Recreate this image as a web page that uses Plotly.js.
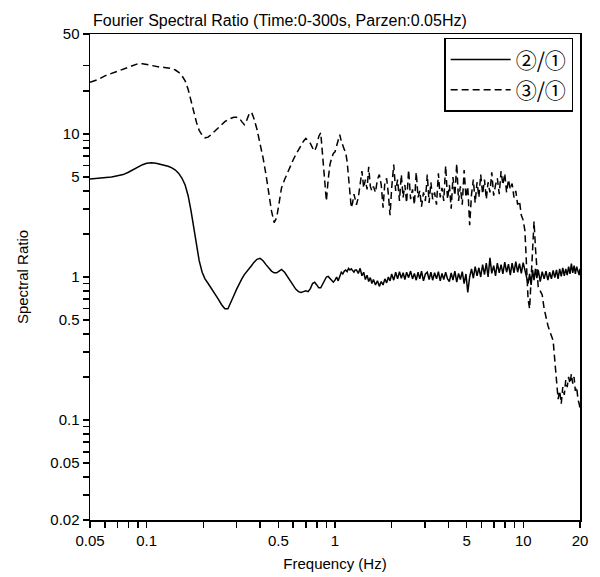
<!DOCTYPE html>
<html>
<head>
<meta charset="utf-8">
<script src="https://cdn.plot.ly/plotly-3.0.1.min.js"></script>
<style>html,body{margin:0;padding:0;background:#fff}#chart{width:600px;height:577px}</style>
</head>
<body>
<div id="chart"></div>
<script>
// Frequency (Hz)
const frequency = [
  0.050,0.055,0.060,0.065,0.070,0.075,0.080,0.085,0.090,0.095,
  0.100,0.106,0.112,0.118,0.124,0.130,0.136,0.142,0.148,0.154,
  0.160,0.166,0.172,0.178,0.184,0.190,0.197,0.204,0.212,0.220,
  0.230,0.240,0.250,0.260,0.270,0.280,0.290,0.300,0.310,0.320,
  0.330,0.340,0.350,0.360,0.370,0.385,0.400,0.415,0.430,0.445,
  0.460,0.475,0.490,0.505,0.520,0.540,0.560,0.580,0.600,0.620,
  0.640,0.660,0.680,0.700,0.720,0.740,0.760,0.780,0.800,0.820,
  0.840,0.860,0.880,0.900,0.920,0.940,0.960,0.980,1.000,1.020,
  1.040,1.060,1.080,1.100,1.120,1.140,1.160,1.180,1.200,1.220,
  1.240,1.260,1.280,
  1.30,1.33,1.36,1.39,1.42,1.45,1.48,1.51,1.54,1.57,
  1.60,1.64,1.68,1.72,1.76,1.80,1.84,1.88,1.92,1.96,
  2.00,2.05,2.10,2.15,2.20,2.25,2.30,2.35,2.40,2.46,
  2.52,2.58,2.64,2.70,2.76,2.82,2.88,2.95,3.02,3.09,
  3.16,3.23,3.30,3.38,3.46,3.54,3.62,3.70,3.78,3.87,
  3.96,4.05,4.14,4.23,4.33,4.43,4.53,4.63,4.74,4.85,
  4.96,5.07,5.19,5.31,5.43,5.55,5.68,5.81,5.94,6.08,
  6.22,6.36,6.50,6.65,6.80,6.96,7.12,7.28,7.45,7.62,
  7.79,7.97,8.15,8.34,8.53,8.72,8.92,9.12,9.33,9.54,
  9.76,9.98,10.2,10.4,10.6,10.8,11.0,11.2,11.4,11.6,
  11.8,12.0,12.3,12.6,12.9,13.2,13.5,13.8,14.1,14.4,
  14.7,15.0,15.3,15.6,15.9,16.2,16.5,16.8,17.1,17.4,
  17.7,18.0,18.3,18.6,18.9,19.2,19.5,19.8,20.0
];

// Spectral ratio 2/1 (solid)
const ratio21 = [
  4.85,4.9,4.95,5.0,5.1,5.2,5.4,5.65,5.9,6.1,
  6.25,6.3,6.25,6.15,6.05,5.95,5.8,5.6,5.3,4.9,
  4.4,3.7,2.9,2.2,1.65,1.3,1.08,0.97,0.9,0.84,
  0.77,0.7,0.64,0.6,0.6,0.66,0.74,0.82,0.9,0.97,
  1.04,1.1,1.15,1.2,1.26,1.33,1.35,1.3,1.22,1.16,
  1.1,1.07,1.07,1.1,1.13,1.08,1.0,0.93,0.87,0.82,
  0.79,0.78,0.79,0.8,0.79,0.83,0.9,0.92,0.88,0.84,
  0.84,0.9,0.95,1.0,1.01,0.98,0.94,0.92,0.95,1.0,
  0.94,1.02,1.08,1.05,1.1,1.12,1.09,1.15,1.12,1.14,
  1.1,1.08,1.12,
  1.12,1.06,1.15,1.02,1.08,0.96,1.03,0.93,0.99,0.9,
  0.96,0.88,0.94,0.86,0.93,0.88,0.97,0.91,1.0,0.94,
  1.05,0.95,1.08,0.97,1.09,0.98,1.07,0.96,1.08,0.99,
  1.1,0.97,1.06,0.95,1.08,0.97,1.1,0.94,1.05,1.08,
  0.96,1.08,0.95,1.07,0.97,1.09,0.94,1.06,0.96,1.08,
  0.97,0.93,1.07,0.95,1.1,0.92,1.06,0.96,1.09,0.9,
  1.05,0.78,1.0,1.14,0.98,1.18,1.02,1.16,1.0,1.22,
  1.04,1.25,1.0,1.36,1.06,1.2,1.02,1.25,1.07,1.22,
  1.05,1.27,1.08,1.23,1.03,1.25,1.07,1.28,1.08,1.24,
  1.06,1.26,1.1,1.0,0.9,1.05,0.88,1.12,0.95,1.14,
  0.98,1.12,0.93,1.09,0.97,1.1,0.95,1.08,0.97,1.11,
  0.99,1.12,0.97,1.14,1.01,1.16,1.02,1.14,1.03,1.18,
  1.05,1.24,1.07,1.2,1.05,1.18,1.07,1.03,1.14
];

// Spectral ratio 3/1 (dashed)
const ratio31 = [
  23,24,25.5,26.5,27.5,28.5,29.5,30.5,31,31,
  30.5,30,29.5,29.3,29.2,29,28.7,28,27,25.5,
  23.5,20.5,17,14,12,10.6,9.8,9.4,9.5,9.9,
  10.5,11.1,11.7,12.2,12.6,12.9,13.1,13.1,12.9,12.2,
  11.6,12.5,13.8,14.2,13,10.8,8.6,6.8,5.2,3.9,
  2.9,2.4,2.6,3.3,4.2,4.8,5.4,6.0,6.6,7.2,
  7.8,8.4,8.9,9.3,8.9,8.6,8.0,7.6,8.3,9.6,
  10.2,7.0,4.6,3.4,4.8,6.1,6.8,7.3,7.5,8.3,
  9.2,9.9,8.9,8.2,7.8,7.4,6.4,5.0,4.0,3.05,
  3.3,3.8,3.5,
  3.2,3.6,4.4,5.5,4.2,4.8,4.1,5.9,4.3,4.0,
  4.3,3.9,4.8,5.2,4.4,3.05,4.6,4.9,3.8,2.7,
  4.2,6.1,4.0,4.8,3.4,5.2,3.6,4.4,3.3,5.6,
  3.5,4.1,3.2,5.4,3.6,4.0,3.1,3.9,3.4,5.2,
  3.3,4.6,3.5,3.9,3.2,5.3,3.6,4.2,3.4,6.0,
  3.5,4.4,3.0,5.0,3.7,6.2,3.4,4.3,3.2,5.6,
  3.6,4.3,2.3,3.8,4.8,3.3,4.6,3.6,5.2,3.8,
  4.8,3.5,4.6,3.9,5.4,3.7,4.4,4.9,3.8,5.5,
  4.4,5.3,3.9,4.8,4.1,4.5,3.6,4.0,3.2,3.4,
  2.7,2.5,2.1,1.3,0.7,0.6,1.0,1.8,2.45,1.6,
  1.1,0.85,0.8,0.75,0.6,0.52,0.46,0.42,0.39,0.36,
  0.26,0.18,0.14,0.16,0.13,0.17,0.15,0.19,0.17,0.2,
  0.18,0.21,0.18,0.2,0.16,0.17,0.14,0.13,0.12
];

const seriesNames = ['②/①', '③/①'];

const xTickVals = [0.05,0.06,0.07,0.08,0.09,0.1,0.2,0.3,0.4,0.5,0.6,0.7,0.8,0.9,1,2,3,4,5,6,7,8,9,10,20];
const xTickText = ['0.05','','','','','0.1','','','','0.5','','','','','1','','','','5','','','','','10','20'];
const yTickVals = [0.02,0.03,0.04,0.05,0.06,0.07,0.08,0.09,0.1,0.2,0.3,0.4,0.5,0.6,0.7,0.8,0.9,1,2,3,4,5,6,7,8,9,10,20,30,50];
const yTickText = ['0.02','','','0.05','','','','','0.1','','','','0.5','','','','','1','','','','5','','','','','10','','','50'];

const fam = 'Liberation Sans, Arial, sans-serif';
const tickFont = {family: fam, size: 15, color: '#000'};
const axisTitleFont = {family: fam, size: 15, color: '#000'};

const traces = [
  {x: frequency, y: ratio21, name: seriesNames[0], type: 'scatter', mode: 'lines',
   line: {color: '#000', width: 1.5}},
  {x: frequency, y: ratio31, name: seriesNames[1], type: 'scatter', mode: 'lines',
   line: {color: '#000', width: 1.5, dash: '7px,4px'}}
];

const layout = {
  width: 600, height: 577,
  margin: {l: 90, r: 20, t: 34, b: 57},
  paper_bgcolor: '#fff', plot_bgcolor: '#fff',
  font: tickFont,
  showlegend: true,
  title: {text: 'Fourier Spectral Ratio (Time:0-300s, Parzen:0.05Hz)',
          x: 93/600, xanchor: 'left', xref: 'container',
          y: 1 - 20/577, yanchor: 'middle', yref: 'container',
          font: {family: fam, size: 16, color: '#000'}},
  xaxis: {type: 'log', range: [Math.log10(0.05), Math.log10(20)],
          tickmode: 'array', tickvals: xTickVals, ticktext: xTickText,
          ticks: 'outside', ticklen: 6, tickwidth: 1.5, tickcolor: '#000',
          showline: true, linecolor: '#000', linewidth: 1.5, mirror: true,
          showgrid: false, zeroline: false,
          tickfont: tickFont,
          title: {text: 'Frequency (Hz)', font: axisTitleFont, standoff: 11}},
  yaxis: {type: 'log', range: [Math.log10(0.02), Math.log10(50)],
          tickmode: 'array', tickvals: yTickVals, ticktext: yTickText,
          ticks: 'outside', ticklen: 6, tickwidth: 1.5, tickcolor: '#000',
          showline: true, linecolor: '#000', linewidth: 1.5, mirror: true,
          showgrid: false, zeroline: false,
          tickfont: tickFont,
          title: {text: 'Spectral Ratio', font: axisTitleFont, standoff: 18}},
  legend: {x: 0.986, xanchor: 'right', y: 0.992, yanchor: 'top',
           bordercolor: '#000', borderwidth: 1.5, bgcolor: '#fff',
           itemwidth: 60, tracegroupgap: 0,
           font: {family: 'Noto Sans CJK JP, DejaVu Sans, sans-serif', size: 21, color: '#000'}}
};

Plotly.newPlot('chart', traces, layout, {staticPlot: true, displayModeBar: false});
</script>
</body>
</html>
